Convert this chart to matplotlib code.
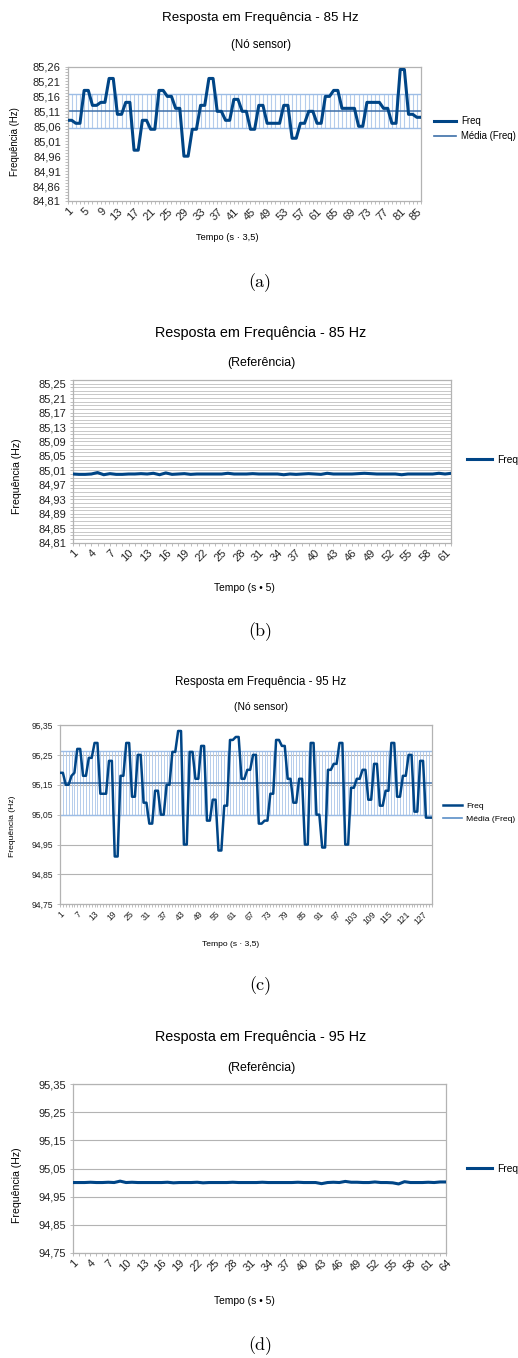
import numpy as np
import matplotlib
matplotlib.use("Agg")
import matplotlib.pyplot as plt
from matplotlib.lines import Line2D
from matplotlib.ticker import MultipleLocator, FixedLocator

plt.rcParams['font.family'] = ['Liberation Sans', 'DejaVu Sans']

# ---------------- data ----------------
freq_a = [85.08, 85.08, 85.07, 85.07, 85.18, 85.18, 85.13, 85.13, 85.14, 85.14,
          85.22, 85.22, 85.10, 85.10, 85.14, 85.14, 84.98, 84.98, 85.08, 85.08,
          85.05, 85.05, 85.18, 85.18, 85.16, 85.16, 85.12, 85.12, 84.96, 84.96,
          85.05, 85.05, 85.13, 85.13, 85.22, 85.22, 85.11, 85.11, 85.08, 85.08,
          85.15, 85.15, 85.11, 85.11, 85.05, 85.05, 85.13, 85.13, 85.07, 85.07,
          85.07, 85.07, 85.13, 85.13, 85.02, 85.02, 85.07, 85.07, 85.11, 85.11,
          85.07, 85.07, 85.16, 85.16, 85.18, 85.18, 85.12, 85.12, 85.12, 85.12,
          85.06, 85.06, 85.14, 85.14, 85.14, 85.14, 85.12, 85.12, 85.07, 85.07,
          85.25, 85.25, 85.10, 85.10, 85.09, 85.09]
mean_a = 85.111
std_a = 0.058

freq_b = [85.000, 84.999, 84.999, 85.000, 85.004, 84.998, 85.001, 84.999, 84.999, 85.000,
          85.000, 85.001, 85.000, 85.002, 84.998, 85.003, 84.999, 85.000, 85.001, 84.999,
          85.000, 85.000, 85.000, 85.000, 85.000, 85.002, 85.000, 85.000, 85.000, 85.001,
          85.000, 85.000, 85.000, 85.000, 84.998, 85.000, 84.999, 85.000, 85.001, 85.000,
          84.999, 85.002, 85.000, 85.000, 85.000, 85.000, 85.001, 85.002, 85.001, 85.000,
          85.000, 85.000, 85.000, 84.998, 85.000, 85.000, 85.000, 85.000, 85.000, 85.002,
          85.000, 85.002]

freq_c = [95.19, 95.19, 95.15, 95.15, 95.18, 95.19, 95.27, 95.27, 95.18, 95.18,
          95.24, 95.24, 95.29, 95.29, 95.12, 95.12, 95.12, 95.23, 95.23, 94.91,
          94.91, 95.18, 95.18, 95.29, 95.29, 95.11, 95.11, 95.25, 95.25, 95.09,
          95.09, 95.02, 95.02, 95.13, 95.13, 95.05, 95.05, 95.15, 95.15, 95.26,
          95.26, 95.33, 95.33, 94.95, 94.95, 95.26, 95.26, 95.17, 95.17, 95.28,
          95.28, 95.03, 95.03, 95.10, 95.10, 94.93, 94.93, 95.08, 95.08, 95.30,
          95.30, 95.31, 95.31, 95.17, 95.17, 95.20, 95.20, 95.25, 95.25, 95.02,
          95.02, 95.03, 95.03, 95.12, 95.12, 95.30, 95.30, 95.28, 95.28, 95.17,
          95.17, 95.09, 95.09, 95.17, 95.17, 94.95, 94.95, 95.29, 95.29, 95.05,
          95.05, 94.94, 94.94, 95.20, 95.20, 95.22, 95.22, 95.29, 95.29, 94.95,
          94.95, 95.14, 95.14, 95.17, 95.17, 95.20, 95.20, 95.10, 95.10, 95.22,
          95.22, 95.08, 95.08, 95.13, 95.13, 95.29, 95.29, 95.11, 95.11, 95.18,
          95.18, 95.25, 95.25, 95.06, 95.06, 95.23, 95.23, 95.04, 95.04, 95.04]
mean_c = 95.155
std_c = 0.107

freq_d = [95.000, 95.000, 95.000, 95.001, 95.000, 95.000, 95.001, 95.000, 95.005, 95.000,
          95.001, 95.000, 95.000, 95.000, 95.000, 95.000, 95.001, 94.999, 95.000, 95.000,
          95.000, 95.001, 94.999, 95.000, 95.000, 95.000, 95.000, 95.001, 95.000, 95.000,
          95.000, 95.000, 95.001, 95.000, 95.000, 95.000, 95.000, 95.000, 95.001, 95.000,
          95.000, 95.000, 94.996, 95.000, 95.001, 95.000, 95.004, 95.001, 95.001, 95.000,
          95.000, 95.002, 95.000, 95.000, 94.999, 94.995, 95.003, 95.000, 95.000, 95.000,
          95.001, 95.000, 95.002, 95.002]

titles = ["Resposta em Frequência - 85 Hz", "Resposta em Frequência - 85 Hz",
          "Resposta em Frequência - 95 Hz", "Resposta em Frequência - 95 Hz"]
subtitles = ["(Nó sensor)", "(Referência)", "(Nó sensor)", "(Referência)"]
xlabels = ["Tempo (s · 3,5)", "Tempo (s • 5)", "Tempo (s · 3,5)", "Tempo (s • 5)"]
ylabel = "Frequência (Hz)"
captions = ["(a)", "(b)", "(c)", "(d)"]
label_step = [4, 3, 6, 3]

# ---------------- style ----------------
W, H = 518, 1358
fig = plt.figure(figsize=(W / 100, H / 100), dpi=100)
LINE = '#004586'
MEAN = '#3d6fa8'
BAND = '#b5cdec'
BANDEDGE = '#9dbde6'
GRAY = '#b3b3b3'


def fx(px):
    return px / W


def fy(py):
    return 1 - py / H


def add_ax(l, r, t, b):
    return fig.add_axes([fx(l), fy(b), fx(r - l), (b - t) / H])


def style(ax, n, step, fs, ymin, ymax, major, minor=None, grid=None, ytop=None):
    x = np.arange(1, n + 1)
    ax.set_xlim(1, n)
    ax.set_ylim(ymin, ymax)
    ax.set_xticks(x)
    ax.set_xticklabels([str(i) if (i - 1) % step == 0 else '' for i in x],
                       rotation=45, ha='right', va='top', rotation_mode='anchor',
                       fontsize=fs, color='#222222')
    top = ymax if ytop is None else ytop
    yt = np.round(np.arange(ymin, top + 1e-9, major), 2)
    ax.yaxis.set_major_locator(FixedLocator(yt))
    ax.set_yticklabels([f"{v:.2f}".replace('.', ',') for v in yt], fontsize=fs,
                       color='#222222')
    if minor:
        ax.yaxis.set_minor_locator(MultipleLocator(minor))
    for s in ax.spines.values():
        s.set_color(GRAY)
        s.set_linewidth(0.9)
    ax.tick_params(axis='both', which='both', length=2.3, width=0.6, color=GRAY, pad=2.5)
    ax.tick_params(axis='x', pad=1.5)
    if grid == 'major':
        ax.grid(True, axis='y', which='major', color=GRAY, linewidth=0.8)
    elif grid == 'both':
        ax.grid(True, axis='y', which='both', color='#c8c8c8', linewidth=0.7)
    ax.set_axisbelow(True)
    return x


def texts(i, tx, ty, tfs, sx, sy, sfs, ylx, yly, yfs, xlx, xly, xfs, cy):
    fig.text(fx(tx), fy(ty), titles[i], ha='center', va='center', fontsize=tfs)
    fig.text(fx(sx), fy(sy), subtitles[i], ha='center', va='center', fontsize=sfs)
    fig.text(fx(ylx), fy(yly), ylabel, ha='center', va='center', fontsize=yfs,
             rotation=90)
    fig.text(fx(xlx), fy(xly), xlabels[i], ha='center', va='center', fontsize=xfs)
    fig.text(fx(260), fy(cy), captions[i], ha='center', va='center', fontsize=13,
             family='cmr10')


def band(ax, x, mean, std, lw):
    ax.vlines(x, mean - std, mean + std, color=BAND, linewidth=lw, zorder=1)
    ax.hlines([mean - std, mean + std], x[0], x[-1], color=BANDEDGE, linewidth=1.0,
              zorder=1.5)
    ax.hlines([mean], x[0], x[-1], color=MEAN, linewidth=1.1, zorder=2)


def legend(ax, handles, labels, lx, ly, fs, hl):
    ax.legend(handles, labels, loc='center left', bbox_to_anchor=(fx(lx), fy(ly)),
              bbox_transform=fig.transFigure, frameon=False, fontsize=fs,
              handlelength=hl, handletextpad=0.5, borderpad=0, borderaxespad=0,
              labelspacing=0.5)


# ---------------- panel (a) ----------------
ax = add_ax(67.5, 421, 66.5, 201)
x = style(ax, len(freq_a), label_step[0], 8, 84.81, 85.26, 0.05, minor=0.01)
band(ax, x, mean_a, std_a, 0.8)
ln, = ax.plot(x, freq_a, color=LINE, linewidth=2.2, zorder=3, solid_joinstyle='round')
mh = Line2D([], [], color=MEAN, linewidth=1.2)
legend(ax, [ln, mh], ['Freq', 'Média (Freq)'], 434, 128.5, 6.9, 2.3)
texts(0, 260.5, 18, 9.6, 261, 45, 8.3, 15, 142, 6.9, 227.5, 238, 6.7, 283)

# ---------------- panel (b) ----------------
ax = add_ax(72.7, 451.3, 380, 542.7)
x = style(ax, len(freq_b), label_step[1], 8, 84.81, 85.26, 0.04, minor=0.01,
          grid='both', ytop=85.25)
ln, = ax.plot(x, freq_b, color=LINE, linewidth=2.2, zorder=3)
legend(ax, [ln], ['Freq'], 467, 460, 7.4, 2.4)
texts(1, 260.5, 332.7, 10.4, 261, 363.3, 8.9, 17, 476, 7.6, 244, 587.7, 7.4, 632)

# ---------------- panel (c) ----------------
ax = add_ax(60, 431.7, 725, 904.3)
x = style(ax, len(freq_c), label_step[2], 6.2, 94.75, 95.35, 0.10, grid='major')
band(ax, x, mean_c, std_c, 0.7)
ln, = ax.plot(x, freq_c, color=LINE, linewidth=1.8, zorder=3)
mh = Line2D([], [], color='#5b8fc7', linewidth=1.2)
legend(ax, [ln, mh], ['Freq', 'Média (Freq)'], 443, 812.5, 6.1, 2.2)
texts(2, 261, 681.7, 8.4, 261, 707.3, 7.4, 12.7, 826.3, 6.1, 230.5, 944.3, 6.1, 986)

# ---------------- panel (d) ----------------
ax = add_ax(72.7, 446, 1084.3, 1252.7)
x = style(ax, len(freq_d), label_step[3], 8, 94.75, 95.35, 0.10, grid='major')
ln, = ax.plot(x, freq_d, color=LINE, linewidth=2.2, zorder=3)
legend(ax, [ln], ['Freq'], 467, 1168.7, 7.4, 2.4)
texts(3, 260.5, 1036.7, 10.4, 261, 1067.7, 8.9, 17, 1184.7, 7.6, 244, 1301, 7.4, 1346)

fig.savefig('out.png', dpi=100)
